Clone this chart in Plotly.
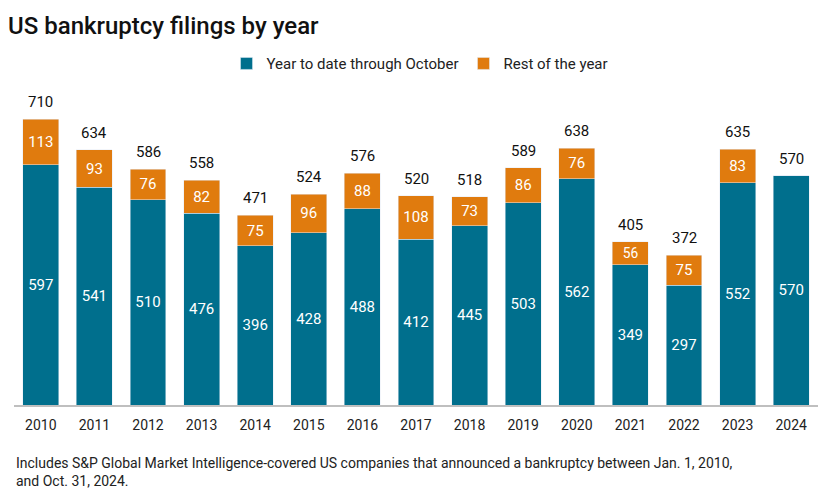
import plotly.graph_objects as go

years = ["2010","2011","2012","2013","2014","2015","2016","2017","2018","2019","2020","2021","2022","2023","2024"]
ytd = [597,541,510,476,396,428,488,412,445,503,562,349,297,552,570]
rest = [113,93,76,82,75,96,88,108,73,86,76,56,75,83,0]
totals = [710,634,586,558,471,524,576,520,518,589,638,405,372,635,570]

TEAL = "#006F8D"
ORANGE = "#E07B0E"
FONT = "Roboto"

fig = go.Figure()
fig.add_trace(go.Bar(x=years, y=ytd, name="Year to date through October", marker_color=TEAL,
                     text=[str(v) for v in ytd], textposition="inside", insidetextanchor="middle",
                     textfont=dict(color="white", size=15, family=FONT), textangle=0,
                     hoverinfo="skip"))
fig.add_trace(go.Bar(x=years, y=rest, name="Rest of the year", marker_color=ORANGE,
                     text=[str(v) if v else "" for v in rest], textposition="inside", insidetextanchor="middle",
                     textfont=dict(color="white", size=15, family=FONT), textangle=0,
                     hoverinfo="skip"))

# category axis: annotations are positioned by category index
for i, tot in enumerate(totals):
    fig.add_annotation(x=i, y=tot, xref="x", yref="y", text=str(tot), showarrow=False,
                       yanchor="bottom", yshift=6,
                       font=dict(color="#111111", size=15, family=FONT))

fig.update_layout(
    barmode="stack", bargap=0.33,
    width=830, height=490,
    margin=dict(l=6, r=20, t=75, b=93),
    paper_bgcolor="white", plot_bgcolor="white",
    title=dict(text="US bankruptcy filings by year", x=0.0, xanchor="left", y=0.965, yanchor="middle",
               font=dict(size=24, family=FONT, color="#111111", weight=500)),
    legend=dict(orientation="h", x=0.505, xanchor="center", y=1.06, yanchor="middle",
                font=dict(size=15, family=FONT, color="#222222"), traceorder="normal"),
    xaxis=dict(type="category", showline=True, linecolor="#BFBFBF", linewidth=1.5, ticks="",
               range=[-0.5, 14.5], ticklabelstandoff=6,
               tickfont=dict(size=14, family=FONT, color="#222222"),
               showgrid=False),
    yaxis=dict(visible=False, range=[0, 800], showgrid=False),
)
fig.add_annotation(text="Includes S&P Global Market Intelligence-covered US companies that announced a bankruptcy between Jan. 1, 2010,<br>and Oct. 31, 2024.",
                   xref="paper", yref="paper", x=0.0, y=-0.15, xanchor="left", yanchor="top",
                   align="left", showarrow=False,
                   font=dict(size=14, family=FONT, color="#222222"))

fig.write_html("out.html")
